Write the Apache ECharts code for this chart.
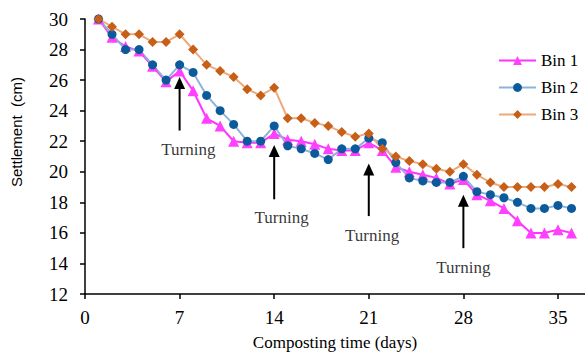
<!DOCTYPE html>
<html>
<head>
<meta charset="utf-8">
<script src="https://cdn.jsdelivr.net/npm/echarts@6/dist/echarts.min.js"></script>
<style>
html,body{margin:0;padding:0;background:#fff;}
#chart{width:585px;height:356px;}
</style>
</head>
<body>
<div id="chart"></div>
<script>
const days = [1,2,3,4,5,6,7,8,9,10,11,12,13,14,15,16,17,18,19,20,21,22,23,24,25,26,27,28,29,30,31,32,33,34,35,36];
const bin1 = [30.0,28.8,28.2,27.9,26.9,25.9,26.6,25.3,23.5,23.0,22.0,21.9,21.9,22.5,22.1,22.0,21.8,21.5,21.4,21.4,21.9,21.4,20.3,20.0,19.8,19.6,19.2,19.5,18.5,18.1,17.6,16.8,16.0,16.0,16.2,16.0];
const bin2 = [30.0,29.0,28.0,28.0,27.0,26.0,27.0,26.5,25.0,24.0,23.1,22.0,22.0,23.0,21.7,21.5,21.2,20.8,21.5,21.5,22.2,21.9,20.6,19.6,19.4,19.3,19.3,19.7,18.7,18.5,18.3,18.0,17.6,17.6,17.8,17.6];
const bin3 = [30.0,29.5,29.0,29.0,28.5,28.5,29.0,28.0,27.0,26.6,26.2,25.4,25.0,25.5,23.5,23.5,23.2,23.0,22.6,22.3,22.5,21.5,21.0,20.7,20.5,20.2,20.0,20.5,19.8,19.3,19.0,19.0,19.0,19.0,19.2,19.0];
const seriesNames = ['Bin 1','Bin 2','Bin 3'];
const xTicks = [0,7,14,21,28,35];
const yTicks = [12,14,16,18,20,22,24,26,28,30];
// turning annotations (data space)
const turnDays = [7,14,21,28];
const arrowTip = [26.2,21.75,20.55,18.5];
const arrowBase = [22.7,18.2,17.1,15.0];
const turnLabelX = [7.65,14.55,21.25,28.0];
const turnLabelY = [21.45,17.0,15.85,13.75];
const turnText = ['Turning','Turning','Turning','Turning'];
const xName = 'Composting time (days)';
const yName = 'Settlement  (cm)';

const serif = 'Liberation Serif';
const pair = (xs, ys) => xs.map((x,i)=>[x, ys[i]]);

const chart = echarts.init(document.getElementById('chart'), null, {renderer:'svg'});
chart.setOption({
  animation:false,
  backgroundColor:'#fff',
  grid:{left:85, top:19, width:503.2, height:277, containLabel:false},
  legend:{
    data:seriesNames, orient:'vertical', left:493, top:47,
    itemWidth:37, itemHeight:11, itemGap:10,
    textStyle:{fontFamily:serif, fontSize:17, color:'#000'}
  },
  xAxis:{
    type:'value', min:0, max:37, interval:7,
    axisLine:{show:true, lineStyle:{color:'#000', width:1.5}},
    axisTick:{show:true, inside:false, length:5, lineStyle:{color:'#000', width:1.5}},
    splitLine:{show:false},
    axisLabel:{fontFamily:serif, fontSize:19, color:'#000', margin:14, showMaxLabel:false,
      formatter:v => xTicks.indexOf(v) >= 0 ? String(v) : ''},
    name:xName, nameLocation:'middle', nameGap:40,
    nameTextStyle:{fontFamily:serif, fontSize:17, color:'#000'}
  },
  yAxis:{
    type:'value', min:12, max:30, interval:2,
    axisLine:{show:true, lineStyle:{color:'#000', width:1.5}},
    axisTick:{show:true, inside:false, length:5, lineStyle:{color:'#000', width:1.5}},
    splitLine:{show:false},
    axisLabel:{fontFamily:serif, fontSize:19, color:'#000', margin:17,
      formatter:v => yTicks.indexOf(v) >= 0 ? String(v) : ''}
  },
  graphic:[{
    type:'text', left:9, top:77,
    rotation:Math.PI/2, originX:0, originY:0,
    style:{text:yName, fontFamily:'Liberation Sans', fontSize:15, fill:'#000'}
  }],
  series:[
    {
      name:'Bin 1', type:'line', data:pair(days,bin1),
      symbol:'triangle', symbolSize:11,
      lineStyle:{color:'#FF33FF', width:2},
      itemStyle:{color:'#FF40FF'}
    },
    {
      name:'Bin 2', type:'line', data:pair(days,bin2),
      symbol:'circle', symbolSize:9,
      lineStyle:{color:'#8DB3D9', width:2},
      itemStyle:{color:'#0B5A9C'}
    },
    {
      name:'Bin 3', type:'line', data:pair(days,bin3),
      symbol:'diamond', symbolSize:10,
      lineStyle:{color:'#EBAA7C', width:2},
      itemStyle:{color:'#C85F18'}
    },
    {
      name:'arrows', type:'custom', silent:true,
      data:turnDays.map((d,i)=>[d, arrowBase[i], arrowTip[i]]),
      renderItem:(params, api) => {
        const base = api.coord([api.value(0), api.value(1)]);
        const tip = api.coord([api.value(0), api.value(2)]);
        const headH = 12, headW = 5.5;
        return {
          type:'group',
          children:[
            {type:'line', shape:{x1:base[0], y1:base[1], x2:tip[0], y2:tip[1]+headH-2},
              style:{stroke:'#000', lineWidth:2}},
            {type:'polygon', shape:{points:[[tip[0],tip[1]],[tip[0]-headW,tip[1]+headH],[tip[0]+headW,tip[1]+headH]]},
              style:{fill:'#000'}}
          ]
        };
      }
    },
    {
      name:'turnLabels', type:'scatter', data:pair(turnLabelX,turnLabelY).map((p,i)=>({value:p, name:turnText[i]})),
      symbolSize:0, silent:true,
      label:{show:true, position:'inside', formatter:p=>p.name,
        fontFamily:serif, fontSize:17, color:'#000'}
    }
  ]
});
</script>
</body>
</html>
